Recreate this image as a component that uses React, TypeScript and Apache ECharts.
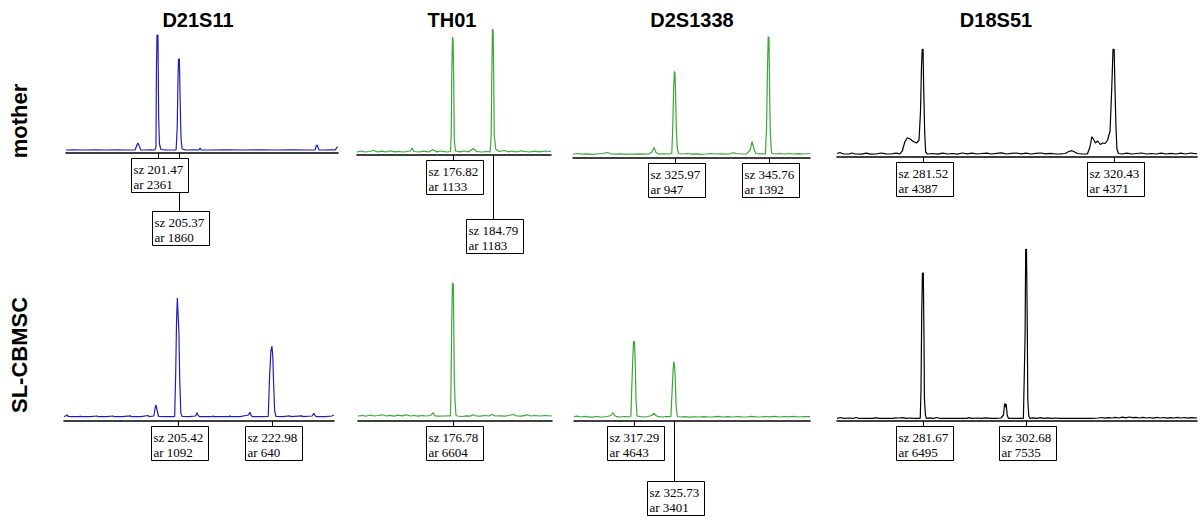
import React, { useEffect, useRef } from "react";
import * as echarts from "echarts";

// ---------- categories ----------
const loci = ["D21S11", "TH01", "D2S1338", "D18S51"];
const samples = ["mother", "SL-CBMSC"];

// ---------- traces: [size (bp), signal (RFU)] ----------
const d21s11Mother: number[][] = [
  [184.6, 30], [186, 32], [188, 30], [190, 31], [192, 30], [194, 31], [196, 30], [197.3, 32], [197.6, 80], [197.8, 100], [198.0, 75], [198.3, 32],
  [199, 30], [200, 31], [200.9, 30], [201.1, 60], [201.2, 880], [201.3, 1180], [201.47, 1180], [201.6, 350], [201.75, 90], [202.0, 35], [203, 32],
  [204, 30], [204.8, 32], [205.0, 250], [205.15, 760], [205.25, 940], [205.4, 940], [205.55, 500], [205.7, 150], [205.9, 40], [206.5, 32], [207, 30],
  [208, 32], [209, 30], [209.2, 50], [209.4, 30], [211, 30], [214, 31], [217, 30], [220, 31], [223, 30], [226, 31], [229, 30], [230.3, 32],
  [230.5, 70], [230.65, 80], [230.8, 60], [231.0, 32], [232, 30], [233, 31], [234, 32], [234.3, 55], [234.5, 60],
];
const th01Mother: number[][] = [
  [157.7, 30], [158.5, 40], [159.3, 30], [160.2, 35], [161, 45], [161.8, 30], [162.6, 38], [163.5, 30], [164.3, 42], [165.2, 32], [166, 35], [167, 30],
  [168.3, 40], [168.65, 70], [169, 35], [170, 30], [171, 38], [172, 30], [172.8, 55], [173.5, 32], [174.5, 40], [175.5, 30], [176.3, 35],
  [176.45, 200], [176.55, 800], [176.7, 1180], [176.82, 1150], [176.95, 700], [177.05, 150], [177.3, 40], [178.2, 32], [179, 40], [180, 32],
  [180.8, 65], [181.5, 35], [182.5, 30], [183.5, 35], [184.2, 32], [184.4, 200], [184.5, 700], [184.65, 1260], [184.79, 1240], [184.9, 800],
  [185.0, 200], [185.3, 60], [186, 35], [187, 45], [187.8, 32], [188.6, 40], [189.5, 30], [190.3, 42], [191.2, 35], [192, 30], [193, 38],
  [194, 32], [195, 40], [196.3, 35],
];
const d2s1338Mother: number[][] = [
  [304.5, 40], [305.5, 45], [306.5, 38], [307.5, 42], [308.5, 36], [309.5, 40], [310.8, 45], [311.7, 55], [312.5, 42], [313.5, 38], [314.5, 42],
  [315.5, 36], [316.5, 40], [317.5, 38], [318.5, 42], [319.5, 38], [320.5, 40], [321.1, 60], [321.55, 105], [322, 55], [322.5, 40], [323.5, 42],
  [324.5, 40], [325.3, 45], [325.5, 300], [325.7, 700], [325.85, 866], [325.97, 850], [326.1, 650], [326.25, 300], [326.45, 100], [326.7, 45],
  [327.5, 40], [328.5, 45], [329.5, 38], [330.5, 42], [331.5, 36], [332.5, 40], [333.5, 45], [334.5, 40], [335.5, 42], [336.5, 38], [337.5, 42],
  [338.2, 52], [339, 45], [340, 40], [341, 42], [341.8, 80], [342.2, 166], [342.6, 90], [343, 45], [344, 42], [345.0, 40], [345.25, 300],
  [345.45, 900], [345.6, 1216], [345.76, 1200], [345.9, 650], [346.05, 250], [346.3, 50], [347, 40], [348, 45], [349, 40], [350, 45], [351, 40],
  [352, 44], [353, 40], [354.4, 45],
];
const d18s51Mother: number[][] = [
  [264, 35], [264.6, 45], [265.3, 30], [266.5, 30], [267, 40], [267.8, 30], [269, 28], [270, 38], [270.8, 28], [272, 30], [273, 40], [274, 32],
  [275, 30], [276, 38], [276.8, 32], [277.3, 60], [277.8, 150], [278.3, 193], [278.9, 180], [279.5, 155], [280.2, 140], [280.7, 170],
  [281.0, 450], [281.2, 900], [281.35, 1077], [281.52, 1077], [281.65, 690], [281.85, 250], [282.05, 50], [282.4, 30],
  [283.5, 35], [284.5, 28], [285.5, 38], [286.5, 30], [287.5, 35], [288.5, 28], [289.5, 40], [290.5, 32], [291.5, 38], [292.5, 30], [293.5, 35],
  [294.5, 38], [295.5, 30], [296.5, 36], [297.5, 42], [298.5, 30], [299.5, 36], [300.5, 40], [301.5, 32], [302.5, 38], [303.5, 30], [304.5, 36],
  [305.5, 40], [306.5, 32], [307.5, 36], [308.5, 30], [309.5, 32], [310.5, 35], [311.2, 55], [311.8, 63], [312.4, 50], [313, 35], [314, 30],
  [315, 32], [315.5, 100], [315.9, 203], [316.3, 170], [316.6, 140], [317.1, 160], [317.6, 125], [318.1, 140], [318.6, 135], [319.1, 170],
  [319.6, 260], [319.95, 700], [320.2, 1077], [320.43, 1077], [320.6, 690], [320.8, 300], [321.0, 80], [321.3, 35], [322, 30], [323, 38],
  [324, 30], [325, 35], [326, 40], [327, 30], [328, 35], [329, 30], [330, 38], [331, 30], [332, 36], [333, 30], [334, 38], [335, 30], [336, 40],
  [337.3, 32],
];
const d21s11Cbmsc: number[][] = [
  [184.1, 45], [184.4, 50], [184.66, 60], [184.9, 45], [186, 43], [187.0, 43], [187.1, 50], [187.3, 43], [189, 44], [190.3, 50], [190.5, 43],
  [192, 44], [193.3, 50], [193.5, 43], [195, 44], [196.5, 52], [196.7, 43], [198.5, 44], [199.8, 55], [200.0, 43], [200.9, 50], [201.15, 130],
  [201.3, 160], [201.5, 110], [201.8, 45], [203, 43], [204.4, 44], [204.8, 45], [205.0, 500], [205.15, 1000], [205.3, 1230], [205.42, 1230],
  [205.6, 877], [205.75, 400], [205.95, 80], [206.2, 45], [207.5, 43], [208.7, 50], [208.96, 83], [209.2, 55], [209.5, 43], [211.8, 44],
  [211.95, 52], [212.1, 43], [215.0, 44], [215.1, 52], [215.3, 43], [217, 44], [218.6, 60], [218.87, 87], [219.1, 55], [219.4, 43], [221, 44],
  [222.3, 45], [222.55, 443], [222.8, 700], [222.98, 750], [223.15, 650], [223.3, 377], [223.5, 100], [223.75, 45], [225, 43], [226.35, 52],
  [226.5, 43], [228.6, 52], [228.8, 43], [230.5, 50], [230.83, 77], [231.1, 50], [231.4, 43], [233, 44], [234.2, 50], [234.6, 60],
];
const th01Cbmsc: number[][] = [
  [157.8, 50], [158.6, 55], [159.4, 48], [160.2, 60], [161.0, 50], [161.8, 55], [162.6, 62], [163.4, 50], [164.2, 56], [165.0, 48], [165.8, 58],
  [166.6, 52], [167.4, 62], [168.2, 50], [169.0, 55], [169.8, 48], [170.6, 55], [171.4, 50], [172.3, 55], [172.74, 83], [173.1, 52], [174, 48],
  [175, 50], [176.0, 52], [176.2, 50], [176.3, 343], [176.45, 1000], [176.6, 1383], [176.78, 1360], [176.95, 443], [177.1, 200], [177.3, 55],
  [177.6, 50], [178.5, 45], [179.3, 52], [180.1, 48], [180.7, 62], [181.3, 50], [182.2, 48], [183, 55], [183.8, 50], [184.5, 65], [185.1, 50],
  [186, 52], [187, 48], [187.8, 55], [188.7, 65], [189.4, 50], [190.3, 48], [191.5, 62], [192.2, 50], [193, 55], [194, 50], [195, 55], [196.4, 50],
];
const d2s1338Cbmsc: number[][] = [
  [304.6, 43], [305.3, 48], [306, 40], [306.8, 46], [307.6, 42], [308.4, 38], [309.2, 45], [310, 42], [310.8, 40], [311.6, 45], [312.4, 55],
  [312.83, 83], [313.2, 55], [313.6, 43], [314.4, 40], [315.2, 45], [316, 42], [316.6, 45], [316.8, 350], [317.0, 610], [317.15, 793],
  [317.35, 793], [317.5, 610], [317.7, 200], [317.9, 50], [318.6, 43], [319.4, 40], [320.2, 45], [321.0, 55], [321.48, 77], [321.9, 55],
  [322.4, 43], [323.2, 40], [324, 45], [324.6, 43], [325.05, 45], [325.3, 300], [325.5, 500], [325.65, 593], [325.8, 560], [325.95, 450],
  [326.15, 150], [326.4, 45], [327.2, 40], [328, 43], [329, 38], [330, 42], [331, 40], [332, 44], [333, 40], [334, 42], [335, 46], [336, 40],
  [337, 43], [338, 40], [339, 45], [340, 42], [341, 40], [342, 46], [343, 42], [344, 40], [345, 45], [346, 42], [347, 46], [348, 40], [349, 45],
  [350, 42], [351, 46], [352, 40], [353, 45], [354.4, 43],
];
const d18s51Cbmsc: number[][] = [
  [264.1, 27], [264.8, 35], [265.5, 27], [266.5, 30], [267.5, 27], [268, 35], [268.5, 27], [270, 27], [271.5, 27], [272, 34], [272.5, 27],
  [274, 27], [275.5, 27], [276, 32], [276.8, 30], [277.5, 34], [278.2, 27], [279, 30], [280, 27], [281.05, 27], [281.2, 300], [281.35, 1070],
  [281.5, 1480], [281.67, 1480], [281.8, 900], [281.9, 220], [282.1, 60], [282.3, 27], [283, 32], [283.7, 27], [284.5, 35], [285, 27],
  [286, 27], [287, 27], [288, 27], [289, 27], [290.5, 27], [291, 34], [291.5, 27], [292.5, 30], [293.5, 27], [294.5, 32], [295.5, 27],
  [296.5, 27], [297.5, 30], [298.0, 60], [298.25, 177], [298.4, 140], [298.55, 170], [298.75, 60], [299, 27], [300, 27], [301, 27], [302.05, 27],
  [302.25, 500], [302.4, 880], [302.52, 1717], [302.68, 1717], [302.82, 1080], [302.95, 210], [303.15, 50], [303.35, 27], [304, 32], [304.8, 27],
  [305.5, 34], [306.2, 27], [307, 32], [307.8, 27], [308.5, 30], [309.3, 27], [310, 27], [311, 27], [312, 27], [313, 27], [314, 27], [315, 27],
  [316, 27], [317.3, 30], [318, 35], [318.7, 28], [319.4, 34], [320.1, 30], [320.8, 36], [321.5, 30], [322.2, 38], [322.9, 32], [323.6, 40],
  [324.3, 33], [325, 37], [325.7, 30], [326.4, 36], [327.1, 30], [327.8, 35], [328.5, 29], [329.2, 36], [329.9, 30], [330.6, 35], [331.3, 29],
  [332, 34], [332.7, 30], [333.4, 36], [334.1, 30], [334.8, 35], [335.5, 29], [336.2, 34], [337.4, 30],
];

// ---------- peak calls: size (sz) and area (ar); level 2 = label dropped below the first ----------
const d21s11MotherSz = [201.47, 205.37];
const d21s11MotherAr = [2361, 1860];
const d21s11MotherLevel = [1, 2];
const th01MotherSz = [176.82, 184.79];
const th01MotherAr = [1133, 1183];
const th01MotherLevel = [1, 2];
const d2s1338MotherSz = [325.97, 345.76];
const d2s1338MotherAr = [947, 1392];
const d2s1338MotherLevel = [1, 1];
const d18s51MotherSz = [281.52, 320.43];
const d18s51MotherAr = [4387, 4371];
const d18s51MotherLevel = [1, 1];
const d21s11CbmscSz = [205.42, 222.98];
const d21s11CbmscAr = [1092, 640];
const d21s11CbmscLevel = [1, 1];
const th01CbmscSz = [176.78];
const th01CbmscAr = [6604];
const th01CbmscLevel = [1];
const d2s1338CbmscSz = [317.29, 325.73];
const d2s1338CbmscAr = [4643, 3401];
const d2s1338CbmscLevel = [1, 2];
const d18s51CbmscSz = [281.67, 302.68];
const d18s51CbmscAr = [6495, 7535];
const d18s51CbmscLevel = [1, 1];

const traces = [d21s11Mother, th01Mother, d2s1338Mother, d18s51Mother, d21s11Cbmsc, th01Cbmsc, d2s1338Cbmsc, d18s51Cbmsc];
const peakSz = [d21s11MotherSz, th01MotherSz, d2s1338MotherSz, d18s51MotherSz, d21s11CbmscSz, th01CbmscSz, d2s1338CbmscSz, d18s51CbmscSz];
const peakAr = [d21s11MotherAr, th01MotherAr, d2s1338MotherAr, d18s51MotherAr, d21s11CbmscAr, th01CbmscAr, d2s1338CbmscAr, d18s51CbmscAr];
const peakLevel = [d21s11MotherLevel, th01MotherLevel, d2s1338MotherLevel, d18s51MotherLevel, d21s11CbmscLevel, th01CbmscLevel, d2s1338CbmscLevel, d18s51CbmscLevel];

// axis size windows (bp) per panel
const xMin = [184.6, 157.7, 304.5, 264.0, 184.1, 157.8, 304.6, 264.1];
const xMax = [234.5, 196.3, 354.4, 337.3, 234.6, 196.4, 354.4, 337.4];
const yMax = [1300, 1300, 1300, 1300, 1800, 1800, 1800, 1800];

// ---------- layout (pixels) ----------
const panelLeft = [66, 357, 573, 837, 64, 358, 574, 837];
const panelWidth = [272, 194, 237, 360, 270, 194, 236, 360];
const panelBottom = [153, 155, 158, 157, 421, 421, 421, 421];
const panelHeight = [130, 130, 130, 130, 180, 180, 180, 180];
const dropLevel2 = [58, 64, 60, 60, 60, 60, 60, 60];
const traceColor = ["#1f1fb4", "#38a838", "#38a838", "#000000"];
const titleX = [198, 452, 692, 996];
const rowLabelY = [121, 355];

export default function App() {
  const ref = useRef<HTMLDivElement>(null);
  useEffect(() => {
    if (!ref.current) return;
    const chart = echarts.init(ref.current, null, { renderer: "svg" });
    const grids: any[] = [];
    const xAxes: any[] = [];
    const yAxes: any[] = [];
    const series: any[] = [];
    for (let i = 0; i < 8; i++) {
      grids.push({
        left: panelLeft[i],
        top: panelBottom[i] - panelHeight[i],
        width: panelWidth[i],
        height: panelHeight[i],
        containLabel: false,
      });
      xAxes.push({
        gridIndex: i,
        type: "value",
        min: xMin[i],
        max: xMax[i],
        axisLine: { show: true, onZero: false, lineStyle: { color: "#000", width: 1.5 } },
        axisTick: { show: false },
        axisLabel: { show: false },
        splitLine: { show: false },
      });
      yAxes.push({ gridIndex: i, type: "value", min: 0, max: yMax[i], show: false, splitLine: { show: false } });
      series.push({
        type: "line",
        xAxisIndex: i,
        yAxisIndex: i,
        data: traces[i],
        showSymbol: false,
        symbol: "none",
        lineStyle: { color: traceColor[i % 4], width: 1.2 },
        silent: true,
        z: 2,
      });
      const drop = dropLevel2[i];
      series.push({
        type: "custom",
        xAxisIndex: i,
        yAxisIndex: i,
        clip: false,
        z: 5,
        silent: true,
        encode: { x: 0, y: 1 },
        data: peakSz[i].map((sz, k) => [sz, 0, peakAr[i][k], peakLevel[i][k]]),
        renderItem: (params: any, api: any) => {
          const sz = api.value(0) as number;
          const ar = api.value(2) as number;
          const level = api.value(3) as number;
          const p = api.coord([sz, 0]);
          const x = Math.round(p[0]) + 0.5;
          const y0 = p[1];
          const top = Math.round(y0 + (level === 1 ? 5 : drop)) + 0.5;
          const left = x - 27;
          const z2 = level === 1 ? 10 : 1;
          return {
            type: "group",
            children: [
              { type: "line", z2, shape: { x1: x, y1: y0, x2: x, y2: top }, style: { stroke: "#000", lineWidth: 1 } },
              { type: "rect", z2, shape: { x: left, y: top, width: 57, height: 34 }, style: { fill: "#fff", stroke: "#000", lineWidth: 1 } },
              {
                type: "text",
                z2: z2 + 1,
                x: left + 2,
                y: top + 3,
                style: {
                  text: "sz " + sz.toFixed(2) + "\nar " + ar,
                  font: '13px "Liberation Serif", "Times New Roman", serif',
                  fill: "#000",
                  lineHeight: 15,
                  verticalAlign: "top",
                  align: "left",
                },
              },
            ],
          };
        },
      });
    }
    const graphic: any[] = [];
    loci.forEach((name, c) => {
      graphic.push({
        type: "text",
        x: titleX[c],
        y: 20,
        style: {
          text: name,
          font: 'bold 20px "Liberation Sans", Arial, sans-serif',
          fill: "#000",
          align: "center",
          verticalAlign: "middle",
        },
      });
    });
    samples.forEach((name, r) => {
      graphic.push({
        type: "text",
        x: 19,
        y: rowLabelY[r],
        rotation: Math.PI / 2,
        style: {
          text: name,
          font: 'bold 22px "Liberation Sans", Arial, sans-serif',
          fill: "#000",
          align: "center",
          verticalAlign: "middle",
        },
      });
    });
    chart.setOption({
      animation: false,
      backgroundColor: "#fff",
      grid: grids,
      xAxis: xAxes,
      yAxis: yAxes,
      series,
      graphic,
    });
    return () => chart.dispose();
  }, []);
  return <div ref={ref} style={{ position: "absolute", left: 0, top: 0, width: 1203, height: 521 }} />;
}
